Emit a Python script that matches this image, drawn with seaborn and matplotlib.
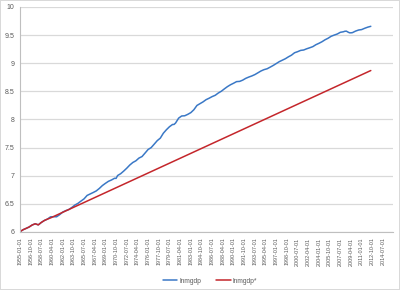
import matplotlib
matplotlib.use("Agg")
import matplotlib.pyplot as plt
import seaborn as sns
import pandas as pd
import numpy as np

# ---- data ----
blue_dates = [
    "1955-01-01", "1955-07-01", "1956-01-01", "1956-07-01", "1957-01-01", "1957-07-01",
    "1958-01-01", "1958-07-01", "1959-01-01", "1959-07-01", "1960-01-01", "1960-07-01",
    "1961-01-01", "1961-07-01", "1962-01-01", "1962-07-01", "1963-01-01", "1963-07-01",
    "1964-01-01", "1964-07-01", "1965-01-01", "1965-07-01", "1966-01-01", "1966-07-01",
    "1967-01-01", "1967-07-01", "1968-01-01", "1968-07-01", "1969-01-01", "1969-07-01",
    "1970-01-01", "1970-07-01", "1970-10-01", "1971-01-01", "1971-07-01", "1972-01-01",
    "1972-07-01", "1973-01-01", "1973-07-01", "1974-01-01", "1974-07-01", "1975-01-01",
    "1975-07-01", "1976-01-01", "1976-07-01", "1977-01-01", "1977-07-01", "1978-01-01",
    "1978-07-01", "1979-01-01", "1979-07-01", "1980-01-01", "1980-04-01", "1980-07-01",
    "1981-01-01", "1981-07-01", "1982-01-01", "1982-07-01", "1983-01-01", "1983-07-01",
    "1984-01-01", "1984-07-01", "1985-01-01", "1985-07-01", "1986-01-01", "1986-07-01",
    "1987-01-01", "1987-07-01", "1988-01-01", "1988-07-01", "1989-01-01", "1989-07-01",
    "1990-01-01", "1990-07-01", "1991-01-01", "1991-07-01", "1992-01-01", "1992-07-01",
    "1993-01-01", "1993-07-01", "1994-01-01", "1994-07-01", "1995-01-01", "1995-07-01",
    "1996-01-01", "1996-07-01", "1997-01-01", "1997-07-01", "1998-01-01", "1998-07-01",
    "1999-01-01", "1999-07-01", "2000-01-01", "2000-07-01", "2001-01-01", "2001-07-01",
    "2002-01-01", "2002-07-01", "2003-01-01", "2003-07-01", "2004-01-01", "2004-07-01",
    "2005-01-01", "2005-07-01", "2006-01-01", "2006-07-01", "2007-01-01", "2007-07-01",
    "2008-01-01", "2008-04-01", "2008-07-01", "2008-10-01", "2009-01-01", "2009-04-01",
    "2009-07-01", "2010-01-01", "2010-07-01", "2011-01-01", "2011-07-01", "2012-01-01",
    "2012-07-01",
]
blue_values = [
    6.006, 6.040, 6.064, 6.089, 6.125, 6.146,
    6.127, 6.170, 6.205, 6.229, 6.269, 6.271,
    6.271, 6.308, 6.354, 6.380, 6.399, 6.436,
    6.479, 6.509, 6.550, 6.589, 6.650, 6.676,
    6.702, 6.730, 6.774, 6.825, 6.865, 6.901,
    6.925, 6.955, 6.953, 7.004, 7.036, 7.083,
    7.134, 7.191, 7.236, 7.266, 7.314, 7.341,
    7.403, 7.467, 7.500, 7.562, 7.624, 7.669,
    7.756, 7.818, 7.871, 7.911, 7.912, 7.937,
    8.024, 8.062, 8.066, 8.091, 8.122, 8.173,
    8.249, 8.281, 8.313, 8.352, 8.378, 8.407,
    8.430, 8.470, 8.502, 8.544, 8.584, 8.617,
    8.644, 8.673, 8.677, 8.699, 8.731, 8.754,
    8.774, 8.798, 8.830, 8.862, 8.886, 8.901,
    8.930, 8.960, 8.994, 9.028, 9.054, 9.080,
    9.114, 9.143, 9.186, 9.205, 9.228, 9.235,
    9.257, 9.275, 9.295, 9.329, 9.354, 9.382,
    9.417, 9.444, 9.479, 9.500, 9.519, 9.549,
    9.559, 9.568, 9.570, 9.554, 9.541, 9.540,
    9.544, 9.571, 9.590, 9.598, 9.621, 9.641,
    9.656,
]
red_dates = [
    "1955-01-01", "1955-07-01", "1956-01-01", "1956-07-01", "1957-01-01", "1957-07-01",
    "1958-01-01", "1958-07-01", "1959-01-01", "1959-07-01", "1960-01-01", "2012-07-01",
]
red_values = [
    6.006, 6.040, 6.064, 6.089, 6.125, 6.146,
    6.127, 6.170, 6.205, 6.229, 6.250, 8.870,
]
tick_labels = [
    "1955-01-01", "1956-10-01", "1958-07-01", "1960-04-01", "1962-01-01", "1963-10-01",
    "1965-07-01", "1967-04-01", "1969-01-01", "1970-10-01", "1972-07-01", "1974-04-01",
    "1976-01-01", "1977-10-01", "1979-07-01", "1981-04-01", "1983-01-01", "1984-10-01",
    "1986-07-01", "1988-04-01", "1990-01-01", "1991-10-01", "1993-07-01", "1995-04-01",
    "1997-01-01", "1998-10-01", "2000-07-01", "2002-04-01", "2004-01-01", "2005-10-01",
    "2007-07-01", "2009-04-01", "2011-01-01", "2012-10-01", "2014-07-01",
]
y_ticks = [6, 6.5, 7, 7.5, 8, 8.5, 9, 9.5, 10]
series_names = ["lnmgdp", "lnmgdp*"]

# ---- build tidy frame ----
df = pd.concat([
    pd.DataFrame({"date": pd.to_datetime(blue_dates), "value": blue_values, "series": series_names[0]}),
    pd.DataFrame({"date": pd.to_datetime(red_dates), "value": red_values, "series": series_names[1]}),
])

sns.set_style("white")
plt.rcParams["font.family"] = ["Liberation Sans", "DejaVu Sans"]

fig = plt.figure(figsize=(4.0, 2.9), dpi=100, edgecolor="#d9d9d9", linewidth=1.2)
ax = fig.add_axes([0.05, 0.2, 0.9325, 0.776])

palette = {series_names[0]: "#3a78c6", series_names[1]: "#c4262b"}
sns.lineplot(data=df, x="date", y="value", hue="series", palette=palette,
             linewidth=1.1, ax=ax, legend=False, estimator=None, sort=True)

ax.set_ylim(6, 10)
ax.set_xlim(pd.Timestamp("1955-01-01"), pd.Timestamp("2016-02-20"))
ax.set_yticks(y_ticks)
ax.set_yticklabels([("%g" % v) for v in y_ticks], fontsize=5, color="#595959")
tick_pos = pd.to_datetime(tick_labels)
ax.set_xticks(tick_pos)
ax.set_xticklabels(tick_labels, rotation=90, fontsize=3.9, color="#595959")
ax.grid(axis="y", color="#d9d9d9", linewidth=0.9)
ax.grid(axis="x", visible=False)
ax.set_axisbelow(True)
for s in ["top", "right"]:
    ax.spines[s].set_visible(False)
for s in ["left", "bottom"]:
    ax.spines[s].set_color("#bfbfbf")
    ax.spines[s].set_linewidth(0.8)
ax.tick_params(axis="both", which="major", direction="out", length=2.5, width=0.7,
               color="#bfbfbf", pad=1.5)
ax.set_xlabel("")
ax.set_ylabel("")

from matplotlib.lines import Line2D
handles = [Line2D([], [], color=palette[n], linewidth=1.1) for n in series_names]
fig.legend(handles, series_names, loc="center", bbox_to_anchor=(0.525, 0.031), ncol=2,
           frameon=False, fontsize=4.8, handlelength=2.2, columnspacing=2.2,
           handletextpad=0.3, labelcolor="#595959")

fig.savefig("out.png", dpi=100, edgecolor=fig.get_edgecolor())
